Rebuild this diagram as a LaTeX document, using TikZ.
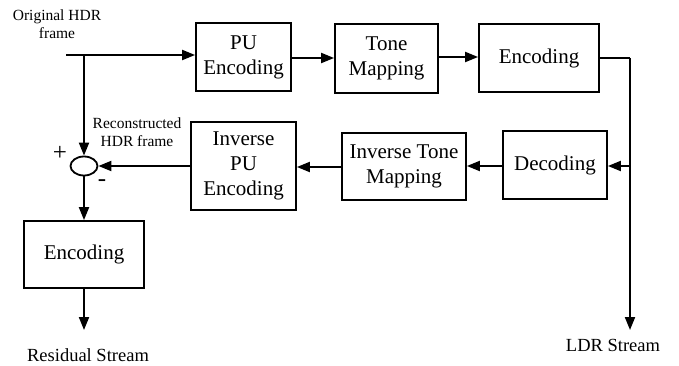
\documentclass[tikz,border=0pt]{standalone}
\usepackage{fontspec}
\setmainfont{Liberation Serif}
\usetikzlibrary{arrows.meta,shapes.geometric}
\begin{document}
\begin{tikzpicture}[x=1pt,y=-1pt,
  blk/.style={draw,line width=1.8pt,inner sep=0pt,align=center,font=\fontsize{21}{25}\selectfont},
  lbl/.style={align=center,inner sep=0pt,font=\fontsize{15.5}{18}\selectfont},
  slbl/.style={align=center,inner sep=0pt,font=\fontsize{18.5}{20}\selectfont},
  arr/.style={line width=2pt,-{Triangle[length=13pt,width=10pt]}},
  ln/.style={line width=2pt}]
\useasboundingbox (0,0) rectangle (679,366);
\node[blk,minimum width=95pt,minimum height=68pt] (pu) at (243.5,57) {PU\\Encoding};
\node[blk,minimum width=103pt,minimum height=69pt] (tm) at (386.5,58.5) {Tone\\Mapping};
\node[blk,minimum width=120pt,minimum height=68pt] (enc) at (539,58) {Encoding};
\node[blk,minimum width=104pt,minimum height=68pt] (dec) at (555,165) {Decoding};
\node[blk,minimum width=124pt,minimum height=67pt] (itm) at (404,166.5) {Inverse Tone\\Mapping};
\node[blk,minimum width=105pt,minimum height=88pt] (ipu) at (243.5,166) {Inverse\\PU\\Encoding};
\node[blk,minimum width=120pt,minimum height=67pt] (enc2) at (84,254.5) {Encoding};
\node[draw,ellipse,line width=1.8pt,minimum width=27pt,minimum height=19pt,inner sep=0pt] (sum) at (84,166) {};
\coordinate (in) at (66,55);
\coordinate (j) at (84,55);
\coordinate (r1) at (630,58);
\coordinate (r3) at (630,166);
\coordinate (r2) at (630,330);
\coordinate (res) at (84,330);
\node[lbl] (orig) at (57,24) {Original HDR\\frame};
\node[lbl] (rec) at (137,132) {Reconstructed\\HDR frame};
\node[lbl,font=\fontsize{25}{25}\selectfont] (plus) at (60,153) {+};
\node[lbl,font=\fontsize{25}{25}\selectfont] (minus) at (102,183) {-};
\node[slbl] (rs) at (88,355) {Residual Stream};
\node[slbl] (ldr) at (613,345) {LDR Stream};
\draw[arr] (in) -- (pu.west |- in);
\draw[arr] (j) -- (sum.north);
\draw[arr] (pu.east |- 0,58) -- (tm.west |- 0,58);
\draw[arr] (tm.east |- 0,57) -- (enc.west |- 0,57);
\draw[ln] (enc.east |- r1) -- (r1);
\draw[arr] (r1) -- (r2);
\draw[arr] (r3) -- (dec.east |- r3);
\draw[arr] (dec.west |- 0,166) -- (itm.east |- 0,166);
\draw[arr] (itm.west |- 0,167) -- (ipu.east |- 0,167);
\draw[arr] (ipu.west |- 0,166) -- (sum.east);
\draw[arr] (sum.south) -- (enc2.north);
\draw[arr] (enc2.south) -- (res);
\end{tikzpicture}
\end{document}
